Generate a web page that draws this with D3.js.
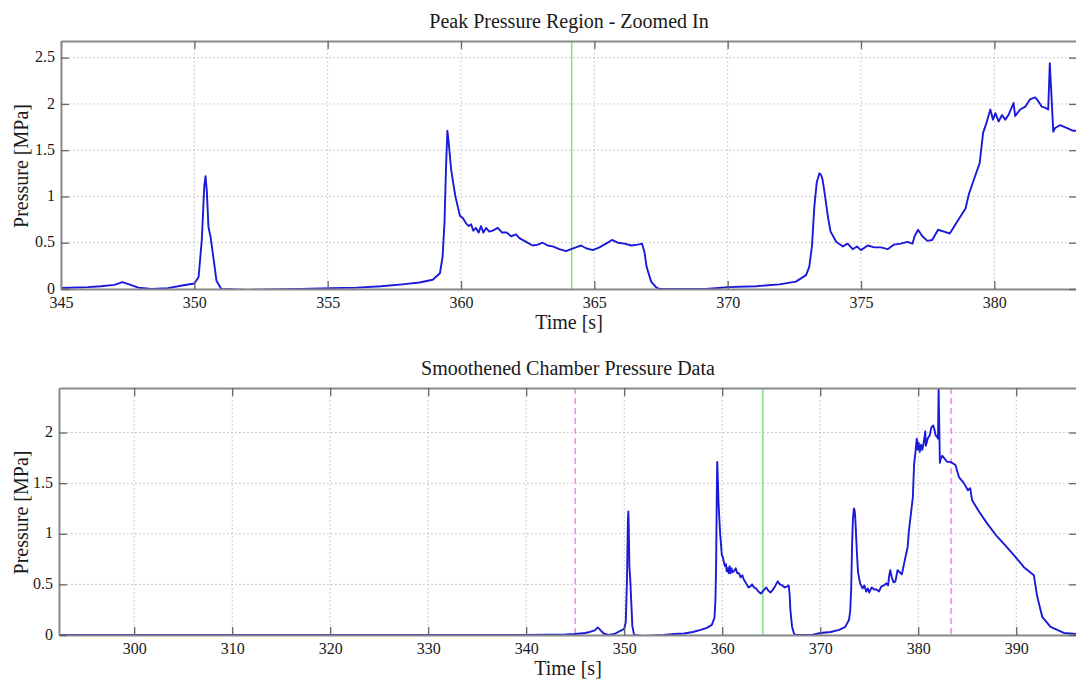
<!DOCTYPE html>
<html>

<head>
    <script type="text/javascript" src="https://d3js.org/d3.v7.min.js"></script>
    <style>
        body { margin: 0; background: #fff; }
        text { font-family: "Liberation Serif", "Times New Roman", serif; fill: #1a1a1a; }
    </style>
</head>

<body>
    <script>

        var w = 1076, h = 682

        // chamber pressure trace (time in s, pressure in MPa)
        var timeS = [292.3, 300, 310, 320, 330, 340, 344, 345, 346.0, 346.5, 347.0, 347.3, 347.5, 347.9, 348.4, 349.0, 349.6, 350.0,
            350.16, 350.28, 350.37, 350.42, 350.47, 350.53, 350.61, 350.71, 350.83, 351.01, 352.0, 354.0, 355.1, 356.1, 357.0, 357.8,
            358.44, 358.94, 359.21, 359.31, 359.38, 359.44, 359.49, 359.54, 359.63, 359.69, 359.79, 359.88, 359.96, 360.06, 360.19,
            360.29, 360.38, 360.46, 360.56, 360.66, 360.75, 360.84, 360.94, 361.06, 361.19, 361.38, 361.54, 361.71, 361.88, 362.06,
            362.19, 362.44, 362.69, 362.88, 363.06, 363.25, 363.44, 363.69, 363.94, 364.13, 364.31, 364.5, 364.69, 364.94, 365.19,
            365.44, 365.66, 365.88, 366.13, 366.38, 366.63, 366.79, 366.88, 366.96, 367.13, 367.31, 367.44, 368.19, 369.19, 370.0,
            371.06, 371.94, 372.56, 372.94, 373.06, 373.16, 373.25, 373.34, 373.44, 373.51, 373.56, 373.63, 373.76, 373.86, 374.07,
            374.32, 374.5, 374.69, 374.85, 375.0, 375.25, 375.5, 375.75, 376.0, 376.24, 376.49, 376.74, 376.93, 377.01, 377.14,
            377.3, 377.49, 377.67, 377.89, 378.11, 378.33, 378.61, 378.92, 379.04, 379.23, 379.45, 379.58, 379.7, 379.85, 379.95,
            380.04, 380.16, 380.29, 380.41, 380.53, 380.72, 380.78, 380.97, 381.16, 381.34, 381.53, 381.65, 381.78, 381.9, 382.02,
            382.08, 382.13, 382.21, 382.28, 382.46, 382.71, 382.96, 383.3, 383.8, 384.15, 384.66, 385.07, 385.3, 385.5, 386.2,
            387.04, 387.9, 388.74, 389.76, 390.78, 391.8, 392.14, 392.65, 393.5, 394.86, 396.1]

        var pressMPa = [0.0, 0.0, 0.0, 0.0, 0.0, 0.0, 0.005, 0.01, 0.02, 0.03, 0.045, 0.075, 0.055, 0.015, 0.0, 0.01, 0.04, 0.06,
            0.13, 0.53, 1.10, 1.22, 1.05, 0.67, 0.56, 0.35, 0.09, 0.0, -0.01, 0.0, 0.01, 0.015, 0.03, 0.05,
            0.07, 0.10, 0.17, 0.35, 0.71, 1.33, 1.71, 1.58, 1.29, 1.18, 1.0, 0.89, 0.79, 0.77, 0.71,
            0.68, 0.70, 0.63, 0.66, 0.61, 0.68, 0.61, 0.66, 0.62, 0.63, 0.66, 0.61, 0.61, 0.57, 0.59,
            0.55, 0.51, 0.47, 0.48, 0.50, 0.47, 0.46, 0.43, 0.41, 0.43, 0.45, 0.47, 0.44, 0.42, 0.45,
            0.49, 0.53, 0.50, 0.49, 0.47, 0.48, 0.49, 0.40, 0.24, 0.08, 0.02, 0.0, 0.0, 0.0, 0.02,
            0.03, 0.05, 0.08, 0.15, 0.24, 0.46, 0.89, 1.15, 1.25, 1.23, 1.18, 1.05, 0.78, 0.62, 0.51,
            0.46, 0.49, 0.43, 0.46, 0.42, 0.47, 0.45, 0.45, 0.43, 0.48, 0.49, 0.51, 0.49, 0.57, 0.64,
            0.57, 0.52, 0.53, 0.64, 0.62, 0.60, 0.73, 0.87, 1.02, 1.18, 1.36, 1.69, 1.79, 1.94, 1.83,
            1.90, 1.81, 1.88, 1.83, 1.88, 2.01, 1.87, 1.94, 1.97, 2.05, 2.07, 2.03, 1.97, 1.96, 1.94,
            2.44, 2.16, 1.70, 1.74, 1.77, 1.74, 1.71, 1.71, 1.68, 1.56, 1.50, 1.43, 1.45, 1.33, 1.22,
            1.10, 0.99, 0.90, 0.79, 0.67, 0.59, 0.38, 0.18, 0.08, 0.02, 0.01]

        var markerGreen = [364.15]
        var markerMagenta = [345.0, 383.35]

        var topXTicks = [345, 350, 355, 360, 365, 370, 375, 380]
        var topXLabels = ["345", "350", "355", "360", "365", "370", "375", "380"]
        var topYTicks = [0, 0.5, 1, 1.5, 2, 2.5]
        var topYLabels = ["0", "0.5", "1", "1.5", "2", "2.5"]

        var botXTicks = [300, 310, 320, 330, 340, 350, 360, 370, 380, 390]
        var botXLabels = ["300", "310", "320", "330", "340", "350", "360", "370", "380", "390"]
        var botYTicks = [0, 0.5, 1, 1.5, 2]
        var botYLabels = ["0", "0.5", "1", "1.5", "2"]

        var trace = timeS.map((t, i) => ({ t: t, p: pressMPa[i] }))

        var svg = d3.select('body').append('svg')
        svg.attr('width', w).attr('height', h);

        function panel(o) {
            var xscale = d3.scaleLinear().domain(o.xDomain).range([o.left, o.right])
            var yscale = d3.scaleLinear().domain(o.yDomain).range([o.bottom, o.top])
            var ph = o.bottom - o.top, pw = o.right - o.left
            var g = svg.append("g")

            g.append("clipPath").attr("id", o.id)
                .append("rect")
                .attr("x", o.left).attr("y", o.top)
                .attr("width", pw).attr("height", ph)

            // dotted grid
            g.append("g").selectAll("line").data(o.xTicks).join("line")
                .attr("x1", d => xscale(d)).attr("x2", d => xscale(d))
                .attr("y1", o.top).attr("y2", o.bottom)
                .attr("stroke", "#bdbdbd").attr("stroke-width", 1)
                .attr("stroke-dasharray", "1.5,2.5")
            g.append("g").selectAll("line").data(o.yTicks).join("line")
                .attr("y1", d => yscale(d)).attr("y2", d => yscale(d))
                .attr("x1", o.left).attr("x2", o.right)
                .attr("stroke", "#bdbdbd").attr("stroke-width", 1)
                .attr("stroke-dasharray", "1.5,2.5")

            // vertical markers
            g.append("g").selectAll("line").data(o.green).join("line")
                .attr("x1", d => xscale(d)).attr("x2", d => xscale(d))
                .attr("y1", o.top).attr("y2", o.bottom)
                .attr("stroke", "#7ee07e").attr("stroke-width", 1.5)
            g.append("g").selectAll("line").data(o.magenta).join("line")
                .attr("x1", d => xscale(d)).attr("x2", d => xscale(d))
                .attr("y1", o.top).attr("y2", o.bottom)
                .attr("stroke", "#ee88ee").attr("stroke-width", 1.5)
                .attr("stroke-dasharray", "6,4")

            var line = d3.line().x(d => xscale(d.t)).y(d => yscale(d.p))
            g.append("path")
                .datum(trace)
                .attr("clip-path", "url(#" + o.id + ")")
                .attr("d", line)
                .attr("fill", "none")
                .attr("stroke", "#1a1ad8")
                .attr("stroke-width", 1.9)
                .attr("stroke-linejoin", "round")

            // axes, matlab style ticks pointing inwards
            g.append("g").attr("transform", "translate(0," + o.bottom + ")")
                .call(d3.axisBottom(xscale).tickValues(o.xTicks).tickFormat((d, i) => o.xLabels[i])
                    .tickSizeInner(-8).tickSizeOuter(0).tickPadding(8))
            g.append("g").attr("transform", "translate(0," + o.top + ")")
                .call(d3.axisTop(xscale).tickValues(o.xTicks).tickFormat("")
                    .tickSizeInner(-8).tickSizeOuter(0))
            var yl = g.append("g").attr("transform", "translate(" + o.left + ",0)")
                .call(d3.axisLeft(yscale).tickValues(o.yTicks).tickFormat((d, i) => o.yLabels[i])
                    .tickSizeInner(-8).tickSizeOuter(0).tickPadding(6))
            yl.selectAll(".tick text").attr("dy", "0.26em")
            g.append("g").attr("transform", "translate(" + o.right + ",0)")
                .call(d3.axisRight(yscale).tickValues(o.yTicks).tickFormat("")
                    .tickSizeInner(-8).tickSizeOuter(0))

            g.selectAll(".domain").attr("stroke", "#8a8a8a").attr("stroke-width", 2)
            g.selectAll(".tick line").attr("stroke", "#666").attr("stroke-width", 1.3)
            g.selectAll(".tick text").attr("font-size", 16).attr("fill", "#1a1a1a")
                .style("font-family", "'Liberation Serif', serif")

            // labels
            g.append("text")
                .attr("x", (o.left + o.right) / 2)
                .attr("y", o.top - 13)
                .attr("font-size", "20px")
                .style("text-anchor", "middle")
                .text(o.title)
            g.append("text")
                .attr("x", (o.left + o.right) / 2)
                .attr("y", o.bottom + 40)
                .attr("font-size", "20px")
                .style("text-anchor", "middle")
                .text("Time [s]")
            g.append("text")
                .attr("transform", "translate(28," + ((o.top + o.bottom) / 2 + 1) + ") rotate(-90)")
                .attr("font-size", "20px")
                .style("text-anchor", "middle")
                .text("Pressure [MPa]")
        }

        panel({
            id: "clipTop", title: "Peak Pressure Region - Zoomed In",
            left: 61, right: 1077, top: 41, bottom: 289,
            xDomain: [345, 383.1], yDomain: [0, 2.68],
            xTicks: topXTicks, xLabels: topXLabels, yTicks: topYTicks, yLabels: topYLabels,
            green: markerGreen, magenta: []
        })

        panel({
            id: "clipBot", title: "Smoothened Chamber Pressure Data",
            left: 59, right: 1077, top: 388, bottom: 635,
            xDomain: [292.33, 396.2], yDomain: [0, 2.44],
            xTicks: botXTicks, xLabels: botXLabels, yTicks: botYTicks, yLabels: botYLabels,
            green: markerGreen, magenta: markerMagenta
        })

    </script>
</body>

</html>
